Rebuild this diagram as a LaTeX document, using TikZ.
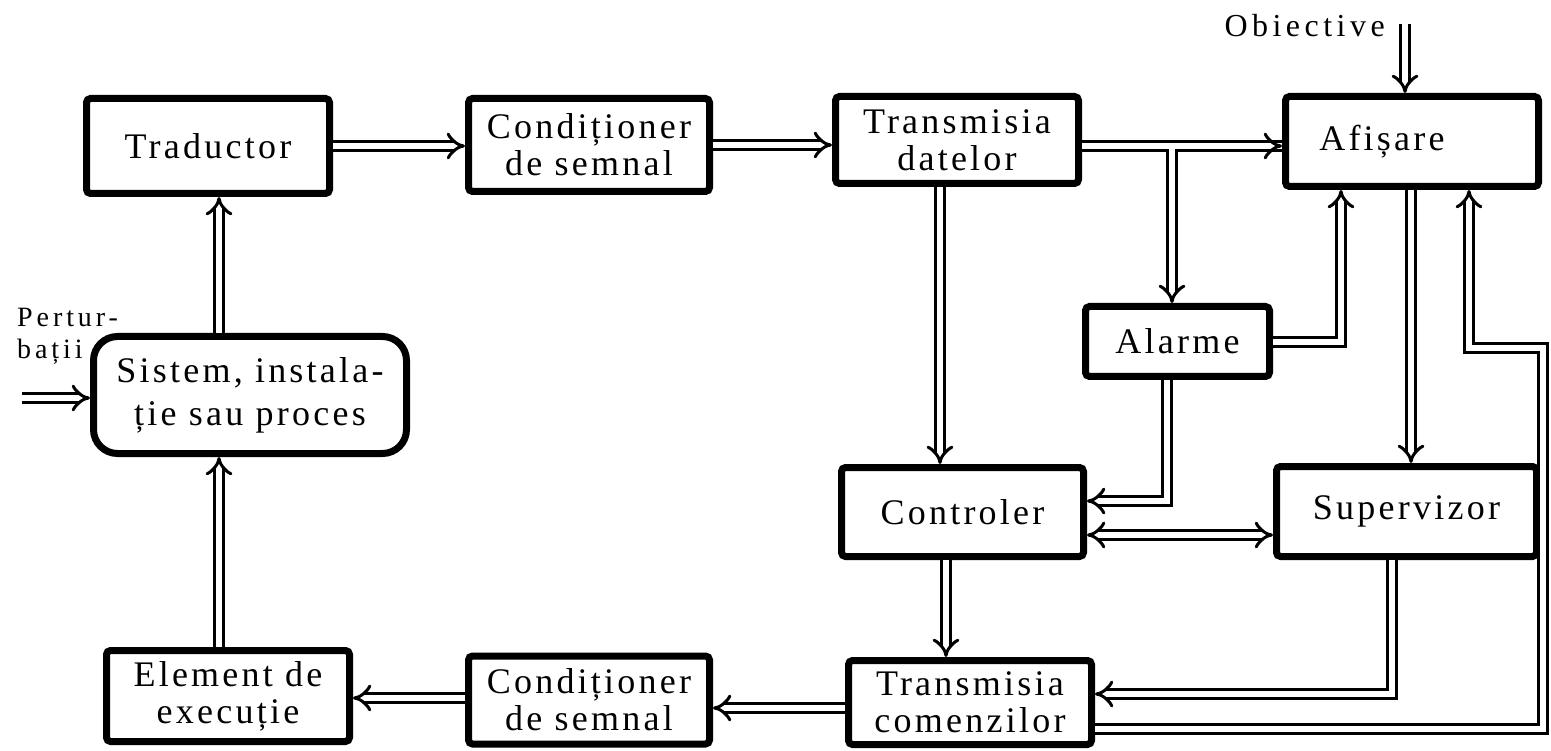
\documentclass[tikz,border=0pt]{standalone}
\usepackage{fontspec}
\setmainfont{Liberation Serif}[LetterSpace=9]
\newfontfamily\lblfont{Liberation Serif}[LetterSpace=14]
\usetikzlibrary{arrows.meta}
\begin{document}
\begin{tikzpicture}[x=1pt,y=-1pt,
  box/.style={draw, line width=7pt, rounded corners=4pt, inner sep=0pt, align=center,
    font=\fontsize{36}{37}\selectfont},
  dbl/.style={double, double distance=6pt, line width=3pt},
  lbl/.style={inner sep=0pt, font=\lblfont\fontsize{32}{34}\selectfont}]
\useasboundingbox (0,0) rectangle (1551,751);

% boxes
\node[box, minimum width=243pt, minimum height=95pt] (trad) at (208,146) {Traductor};
\node[box, minimum width=241pt, minimum height=93pt] (cond1) at (589,145) {Condiționer\\de semnal};
\node[box, minimum width=243pt, minimum height=87pt] (tdat) at (957,140) {Transmisia\\datelor};
\node[box, minimum width=253pt, minimum height=90pt] (afis) at (1412,141.5) {Afișare\hspace*{60pt}};
\node[box, minimum width=184pt, minimum height=70pt] (alarme) at (1177.5,341.5) {Alarme};
\node[box, rounded corners=24pt, minimum width=313pt, minimum height=117pt,
  font=\fontsize{36}{43}\selectfont] (sist) at (250,395) {Sistem, instala-\\ție sau proces};
\node[box, minimum width=242pt, minimum height=89pt] (ctrl) at (962.5,512) {Controler};
\node[box, minimum width=260pt, minimum height=90pt] (superv) at (1406.5,511.5) {Supervizor};
\node[box, minimum width=243pt, minimum height=91pt] (elem) at (228,696) {Element de\\execuție};
\node[box, minimum width=241pt, minimum height=88pt] (cond2) at (589,700) {Condiționer\\de semnal};
\node[box, minimum width=243pt, minimum height=84pt] (tcom) at (970,702.5) {Transmisia\\comenzilor};

% labels
\node[lbl, anchor=base east] (objt) at (1385,37) {Obiective};
\node[lbl, anchor=north west, align=left, font=\lblfont\fontsize{28}{32}\selectfont] (pert) at (17,308) {Pertur-\\bații};

% helper coordinates
\coordinate (jB) at (1172,146);
\coordinate (jB2) at (1210,146);
\coordinate (xC) at (940,0);
\coordinate (pAl) at (1341,342);
\coordinate (pAd) at (1167,501);
\coordinate (yCS) at (0,535);
\coordinate (xAS) at (1411,0);
\coordinate (obj) at (1405,24);
\coordinate (xCT) at (946,0);
\coordinate (pSv) at (1392,694);
\coordinate (pL1) at (1543,729);
\coordinate (pL2) at (1469,348);
\coordinate (yB1) at (0,708);
\coordinate (yB2) at (0,698);
\coordinate (xS) at (219,0);
\coordinate (pp) at (22,398);

% connectors
\draw[dbl,-Implies] (trad.east) -- (trad.east -| cond1.west);
\draw[dbl,-Implies] (cond1.east) -- (cond1.east -| tdat.west);
\draw[dbl,-Implies] (tdat.east |- jB) -- (afis.west |- jB) (jB) -- (jB |- alarme.north);
\draw[dbl,-Implies] (jB2) -- (afis.west |- jB2);
\draw[dbl,-Implies] (tdat.south -| xC) -- (ctrl.north -| xC);
\draw[dbl,-Implies] (alarme.east |- pAl) -- (pAl) -- (pAl |- afis.south);
\draw[dbl,-Implies] (alarme.south -| pAd) -- (pAd) -- (pAd -| ctrl.east);
\draw[dbl,Implies-Implies] (ctrl.east |- yCS) -- (superv.west |- yCS);
\draw[dbl,-Implies] (afis.south -| xAS) -- (superv.north -| xAS);
\draw[dbl,-Implies] (obj) -- (obj |- afis.north);
\draw[dbl,-Implies] (ctrl.south -| xCT) -- (tcom.north -| xCT);
\draw[dbl,-Implies] (superv.south -| pSv) -- (pSv) -- (pSv -| tcom.east);
\draw[dbl,-Implies] (tcom.east |- pL1) -- (pL1) -- (pL1 |- pL2) -- (pL2) -- (pL2 |- afis.south);
\draw[dbl,-Implies] (tcom.west |- yB1) -- (cond2.east |- yB1);
\draw[dbl,-Implies] (cond2.west |- yB2) -- (elem.east |- yB2);
\draw[dbl,-Implies] (elem.north -| xS) -- (sist.south -| xS);
\draw[dbl,-Implies] (sist.north -| xS) -- (trad.south -| xS);
\draw[dbl,-Implies] (pp) -- (pp -| sist.west);
\end{tikzpicture}
\end{document}
